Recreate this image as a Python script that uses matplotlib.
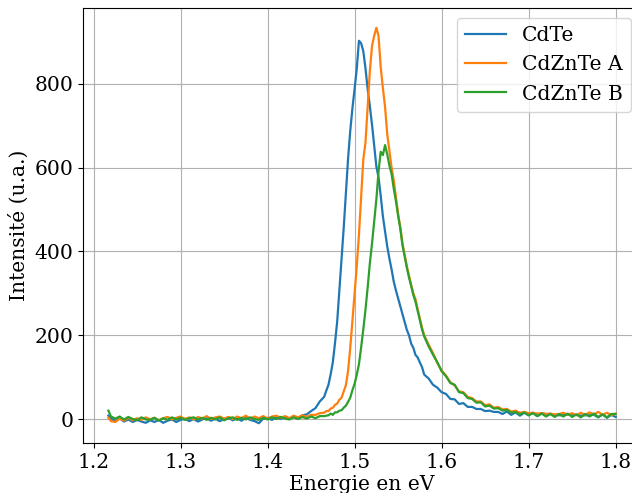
import numpy as np
import matplotlib
matplotlib.use('Agg')
import matplotlib.pyplot as plt

matplotlib.rcParams['font.family'] = 'DejaVu Serif'
matplotlib.rcParams['font.size'] = 14.6

# Energie (eV) - grille commune aux trois spectres
energie = [
    1.217, 1.220, 1.225, 1.230, 1.235, 1.240, 1.245, 1.250, 1.255, 1.260,
    1.265, 1.270, 1.275, 1.280, 1.285, 1.290, 1.295, 1.300, 1.305, 1.310,
    1.315, 1.320, 1.325, 1.330, 1.335, 1.340, 1.345, 1.350, 1.355, 1.360,
    1.365, 1.370, 1.375, 1.380, 1.385, 1.390, 1.395, 1.400, 1.405, 1.410,
    1.415, 1.420, 1.425, 1.430, 1.435, 1.440, 1.445, 1.450, 1.455, 1.460,
    1.465,
    1.4675, 1.4700, 1.4725, 1.4750, 1.4775, 1.4800, 1.4825, 1.4850, 1.4875, 1.4900,
    1.4925, 1.4950, 1.4975, 1.5000, 1.5025, 1.5050, 1.5075, 1.5100, 1.5125, 1.5150,
    1.5175, 1.5200, 1.5225, 1.5250, 1.5275, 1.5300, 1.5325, 1.5350, 1.5375, 1.5400,
    1.5425, 1.5450, 1.5475, 1.5500, 1.5525, 1.5550, 1.5575, 1.5600, 1.5625, 1.5650,
    1.5675, 1.5700, 1.5725, 1.5750, 1.5775, 1.5800,
    1.585, 1.590, 1.595, 1.600, 1.605, 1.610, 1.615, 1.620, 1.625, 1.630,
    1.635, 1.640, 1.645, 1.650, 1.655, 1.660, 1.665, 1.670, 1.675, 1.680,
    1.685, 1.690, 1.695, 1.700, 1.705, 1.710, 1.715, 1.720, 1.725, 1.730,
    1.735, 1.740, 1.745, 1.750, 1.755, 1.760, 1.765, 1.770, 1.775, 1.780,
    1.785, 1.790, 1.795, 1.800,
]

cdte = [
    8, 2, -5, 2, -6, -1, -7, -2, -6, -9,
    -3, -7, -2, -9, -4, -1, -7, -2, 1, -5,
    0, -6, -1, 2, -4, 1, -5, 0, 3, -3,
    2, -4, 3, -2, -5, -10, 1, 3, -2, 4,
    0, 5, 1, 6, 2, 9, 11, 19, 26, 42,
    53,
    68, 82, 107, 136, 182, 233, 307, 378, 457, 538,
    622, 688, 742, 788, 837, 903, 897, 878, 837, 788,
    747, 703, 652, 603, 577, 533, 484, 448, 412, 383,
    357, 328, 307, 288, 270, 250, 232, 213, 200, 180,
    170, 153, 147, 135, 124, 106,
    97, 82, 75, 64, 60, 48, 47, 36, 38, 29,
    29, 24, 24, 19, 20, 17, 17, 12, 18, 10,
    16, 8, 15, 9, 15, 7, 14, 12, 12, 10,
    9, 9, 11, 10, 10, 8, 9, 9, 10, 4,
    11, 3, 10, 5,
]

cdznte_a = [
    3, -5, -7, 1, -4, 3, -3, 2, -2, 4,
    -1, 3, -3, 2, 5, -1, 3, 6, 0, 4,
    -1, 5, 1, 7, 0, 4, 6, 1, 5, 0,
    6, 2, 8, 1, 6, 2, 7, 1, 6, 8,
    3, 7, 2, 8, 4, 9, 5, 10, 10, 14,
    15,
    19, 19, 25, 27, 34, 37, 46, 51, 66, 81,
    115, 170, 235, 300, 365, 440, 530, 620, 660, 745,
    830, 890, 915, 934, 915, 840, 790, 745, 680, 640,
    600, 570, 530, 490, 458, 420, 392, 365, 342, 320,
    300, 286, 262, 240, 218, 200,
    178, 158, 134, 116, 104, 88, 80, 66, 64, 53,
    50, 42, 42, 33, 35, 27, 29, 23, 24, 18,
    20, 15, 17, 14, 15, 13, 14, 12, 13, 11,
    12, 15, 10, 14, 9, 15, 10, 16, 11, 17,
    10, 15, 9, 13,
]

cdznte_b = [
    20, 6, 1, 6, -1, 5, 0, -3, 4, -1,
    -2, 3, -4, 2, -2, 4, -1, 3, -2, 2,
    4, -1, 3, -2, 3, -1, 4, -3, 2, 4,
    -2, 3, -1, 4, 0, -2, 3, -1, 4, 0,
    5, 1, -1, 4, 0, 5, 1, 6, 2, 7,
    7,
    8, 9, 13, 10, 16, 16, 20, 21, 27, 32,
    41, 51, 69, 84, 106, 131, 171, 214, 261, 314,
    371, 419, 471, 524, 591, 638, 630, 654, 632, 605,
    585, 550, 520, 485, 455, 415, 388, 362, 338, 318,
    296, 280, 258, 236, 214, 197,
    174, 154, 136, 114, 102, 86, 82, 64, 62, 50,
    48, 39, 40, 30, 32, 25, 26, 20, 22, 15,
    17, 11, 16, 9, 14, 7, 13, 6, 12, 5,
    12, 6, 13, 5, 11, 4, 12, 6, 13, 5,
    11, 4, 12, 12,
]

fig = plt.figure(figsize=(6.32, 4.93), dpi=100)
ax = fig.add_axes([83 / 632, 50 / 493, 558 / 632, 435 / 493])

ax.plot(energie, cdte, label='CdTe', lw=1.6)
ax.plot(energie, cdznte_a, label='CdZnTe A', lw=1.6)
ax.plot(energie, cdznte_b, label='CdZnTe B', lw=1.6)

ax.set_xlabel('Energie en eV', labelpad=2)
ax.set_ylabel('Intensité (u.a.)')
ax.set_xticks([1.2, 1.3, 1.4, 1.5, 1.6, 1.7, 1.8])
ax.set_yticks([0, 200, 400, 600, 800])
ax.grid(True)
ax.legend(loc='upper right')

fig.savefig('out.png', dpi=100)
